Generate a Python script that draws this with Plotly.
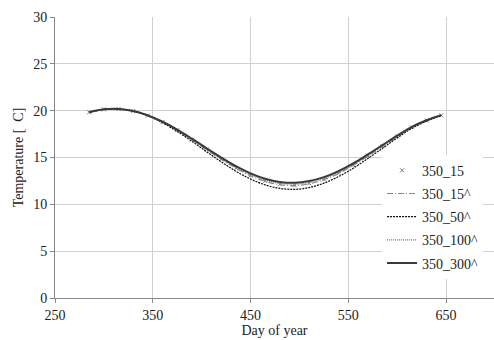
import plotly.graph_objects as go

days = [285, 300, 315, 330, 345, 360, 375, 390, 405, 420, 435, 450, 465,
        480, 495, 510, 525, 540, 555, 570, 585, 600, 615, 630, 645]

t_350_15 = [19.83, 20.14, 20.18, 19.96, 19.48, 18.79, 17.91, 16.91, 15.86, 14.84, 13.89, 13.09, 12.49,
            12.14, 12.05, 12.24, 12.67, 13.34, 14.19, 15.18, 16.21, 17.25, 18.22, 18.95, 19.50]
t_350_15c = [19.83, 20.14, 20.18, 19.96, 19.47, 18.78, 17.90, 16.89, 15.83, 14.80, 13.85, 13.05, 12.45,
             12.09, 12.00, 12.19, 12.62, 13.30, 14.15, 15.14, 16.18, 17.23, 18.21, 18.94, 19.50]
t_350_50c = [19.80, 20.13, 20.18, 19.95, 19.44, 18.71, 17.78, 16.73, 15.62, 14.54, 13.54, 12.70, 12.07,
             11.70, 11.60, 11.79, 12.26, 12.96, 13.85, 14.90, 15.99, 17.09, 18.11, 18.88, 19.47]
t_350_100c = [19.83, 20.14, 20.18, 19.97, 19.49, 18.80, 17.94, 16.95, 15.91, 14.90, 13.96, 13.18, 12.59,
              12.24, 12.15, 12.33, 12.76, 13.42, 14.26, 15.24, 16.26, 17.29, 18.24, 18.96, 19.51]
t_350_300c = [19.84, 20.14, 20.18, 19.97, 19.50, 18.83, 17.98, 17.01, 15.99, 15.00, 14.08, 13.31, 12.73,
              12.39, 12.30, 12.48, 12.90, 13.55, 14.37, 15.33, 16.33, 17.34, 18.28, 18.98, 19.52]

x_ticks = [250, 350, 450, 550, 650]
y_ticks = [0, 5, 10, 15, 20, 25, 30]

font = dict(family="Liberation Serif", size=14, color="#222")

fig = go.Figure()
fig.add_trace(go.Scatter(x=days, y=t_350_15, name="350_15", mode="markers",
                         marker=dict(symbol="x-thin", size=4, line=dict(width=1, color="#777")),
                         legendgroup="a"))
fig.add_trace(go.Scatter(x=days, y=t_350_15c, name="350_15^", mode="lines", line_shape="spline",
                         line=dict(color="#888", width=1.2, dash="6px,2px,1px,2px"), legendgroup="b"))
fig.add_trace(go.Scatter(x=days, y=t_350_50c, name="350_50^", mode="lines", line_shape="spline",
                         line=dict(color="#111", width=1.2, dash="2px,1px"), legendgroup="c"))
fig.add_trace(go.Scatter(x=days, y=t_350_100c, name="350_100^", mode="lines", line_shape="spline",
                         line=dict(color="#777", width=1.2, dash="1px,1px"), legendgroup="d"))
fig.add_trace(go.Scatter(x=days, y=t_350_300c, name="350_300^", mode="lines", line_shape="spline",
                         line=dict(color="#3d3935", width=2), legendgroup="e"))

fig.update_layout(
    width=494, height=340,
    margin=dict(l=55, r=0, t=17, b=42),
    paper_bgcolor="white", plot_bgcolor="white",
    font=font,
    showlegend=True,
    legend=dict(x=0.745, y=0.51, xanchor="left", yanchor="top",
                bgcolor="white", font=font, traceorder="grouped", tracegroupgap=2,
                itemwidth=30),
    xaxis=dict(range=[250, 699], tickvals=x_ticks, showgrid=True, gridcolor="#d0d0d0",
               showline=True, linecolor="#888", ticks="outside", tickcolor="#888", ticklen=4,
               tickfont=font,
               zeroline=False, title=dict(text="Day of year", font=font, standoff=2)),
    yaxis=dict(range=[0, 30], tickvals=y_ticks, showgrid=True, gridcolor="#d0d0d0",
               showline=True, linecolor="#888", ticks="outside", tickcolor="#888", ticklen=4,
               tickfont=font,
               zeroline=False, title=dict(text="Temperature [  C]", font=font, standoff=6)),
)

fig.write_html("out.html")
